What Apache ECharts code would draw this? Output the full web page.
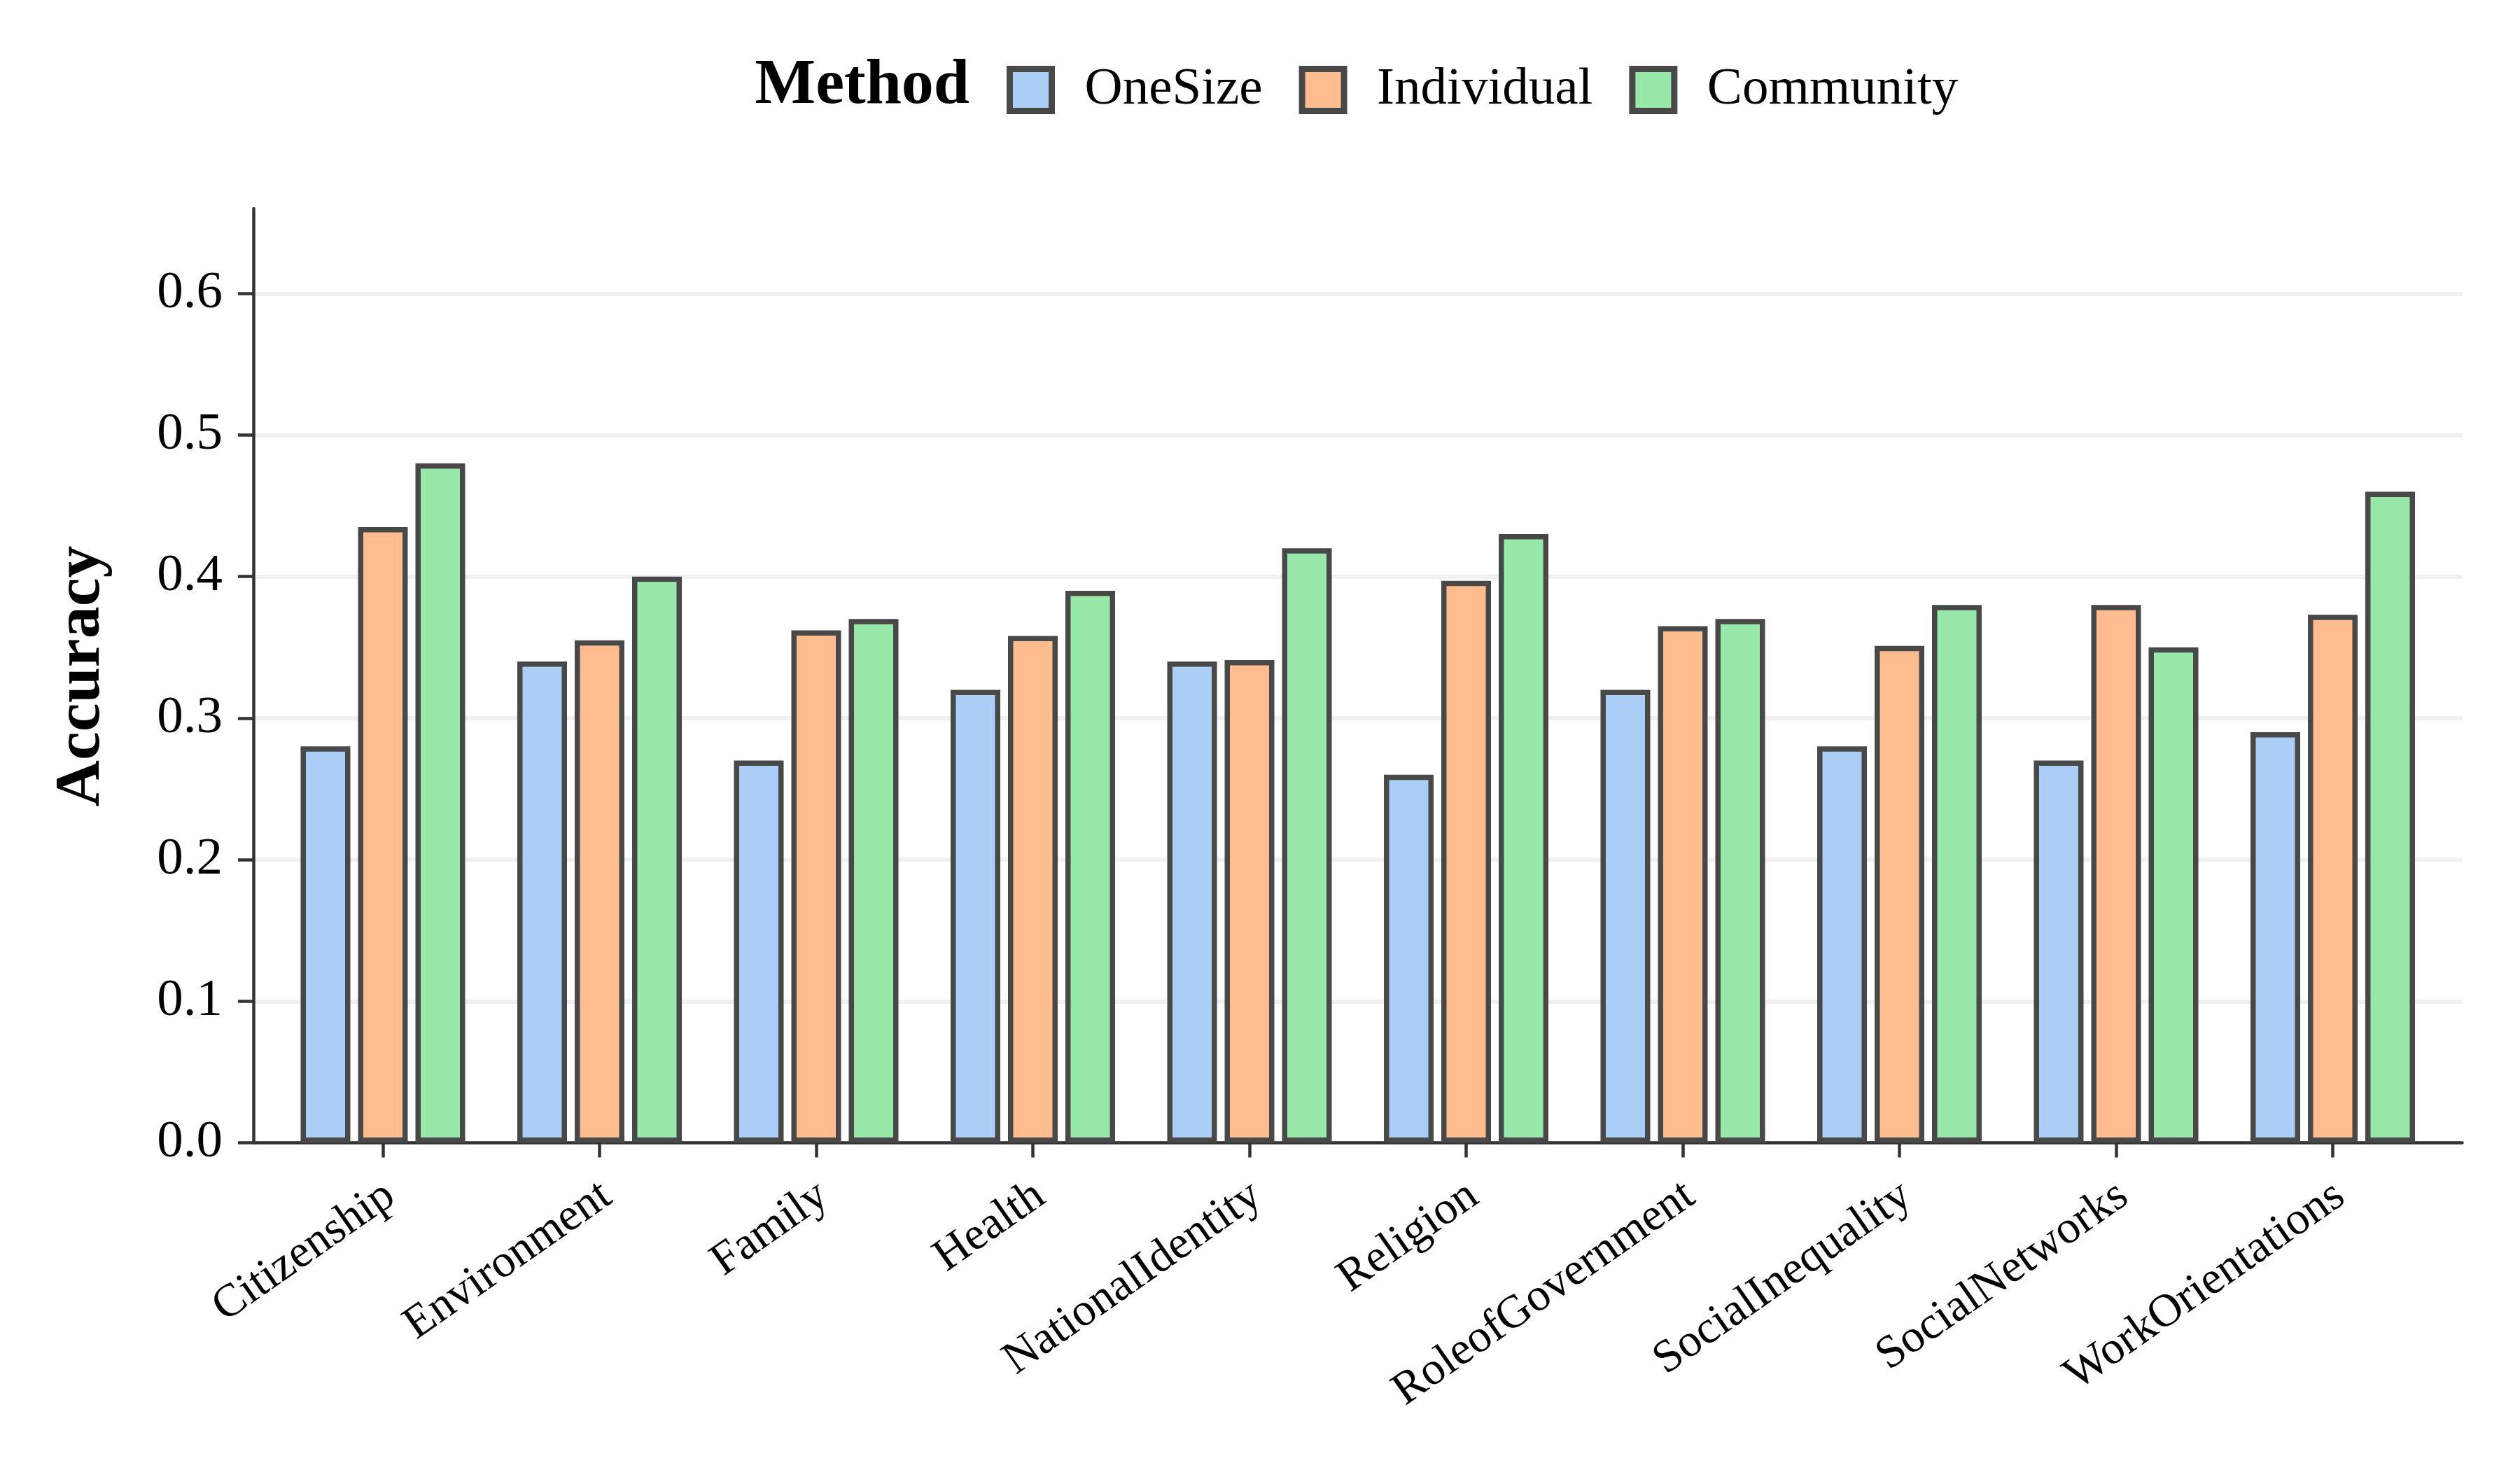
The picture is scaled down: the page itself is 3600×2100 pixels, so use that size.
<!DOCTYPE html>
<html>
<head>
<meta charset="utf-8">
<script src="https://cdn.jsdelivr.net/npm/echarts@6/dist/echarts.min.js"></script>
<style>
  html, body { margin: 0; padding: 0; background: #ffffff; }
  #chart { width: 3600px; height: 2100px; }
</style>
</head>
<body>
<div id="chart"></div>
<script>
const categories = ['Citizenship', 'Environment', 'Family', 'Health', 'NationalIdentity',
  'Religion', 'RoleofGovernment', 'SocialInequality', 'SocialNetworks', 'WorkOrientations'];
const seriesNames = ['OneSize', 'Individual', 'Community'];
const oneSize    = [0.28, 0.34, 0.27, 0.32, 0.34, 0.26, 0.32, 0.28, 0.27, 0.29];
const individual = [0.435, 0.355, 0.362, 0.358, 0.341, 0.397, 0.365, 0.351, 0.38, 0.373];
const community  = [0.48, 0.40, 0.37, 0.39, 0.42, 0.43, 0.37, 0.38, 0.35, 0.46];
const yTicks = [0, 0.1, 0.2, 0.3, 0.4, 0.5, 0.6];

const FONT = "'Liberation Serif', 'Times New Roman', serif";
const colors = ['#aacef5', '#ffbc8f', '#98e8aa'];
const edge = '#484848';
const axisCol = '#333333';

// pixel layout
const y0 = 1632.5, pxPer = 2022;      // px per 1.0 of accuracy
const yMax = 0.66;
const topA = y0 - yMax * pxPer;
const topC = y0 - yTicks[yTicks.length - 1] * pxPer;
const bottom = 2100 - y0;

const chart = echarts.init(document.getElementById('chart'), null, { renderer: 'canvas', width: 3600, height: 2100 });

const seriesData = [oneSize, individual, community];

const option = {
  backgroundColor: '#ffffff',
  animation: false,
  grid: [
    { left: 362, right: 3600 - 3517.5, top: topA, bottom: bottom },   // axis spines
    { left: 392.25, right: 3600 - 3487.25, top: topA, bottom: bottom }, // bars
    { left: 362, right: 3600 - 3517.5, top: topC, bottom: bottom }    // y ticks / grid
  ],
  xAxis: [
    { gridIndex: 0, type: 'value', min: 0, max: 1,
      axisLine: { show: true, lineStyle: { color: axisCol, width: 4.5 } },
      axisTick: { show: false }, axisLabel: { show: false }, splitLine: { show: false } },
    { gridIndex: 1, type: 'category', data: categories, boundaryGap: true,
      axisLine: { show: false },
      axisTick: { show: true, alignWithLabel: true, length: 21, lineStyle: { color: axisCol, width: 4.5 } },
      axisLabel: { rotate: 35, margin: 77, fontFamily: FONT, fontSize: 66, color: '#000', interval: 0,
        padding: [30, -13, 0, 0] },
      splitLine: { show: false } },
    { gridIndex: 2, type: 'value', min: 0, max: 1, show: false }
  ],
  yAxis: [
    { gridIndex: 0, type: 'value', min: 0, max: yMax,
      axisLine: { show: true, lineStyle: { color: axisCol, width: 4.5 } },
      axisTick: { show: false }, axisLabel: { show: false }, splitLine: { show: false } },
    { gridIndex: 1, type: 'value', min: 0, max: yMax, show: false, splitLine: { show: false } },
    { gridIndex: 2, type: 'value', min: 0, max: yTicks[yTicks.length - 1], interval: 0.1,
      axisLine: { show: false },
      axisTick: { show: true, length: 22, lineStyle: { color: axisCol, width: 4.5 } },
      axisLabel: { margin: 44, fontFamily: FONT, fontSize: 75, color: '#000',
        formatter: v => v.toFixed(1) },
      splitLine: { show: true, lineStyle: { color: '#f0f0f0', width: 6 } } }
  ],
  legend: {
    data: seriesNames,
    left: 1433, top: 86,
    orient: 'horizontal',
    itemWidth: 60, itemHeight: 60, itemGap: 52,
    icon: 'rect',
    itemStyle: { borderColor: edge, borderWidth: 9 },
    textStyle: { fontFamily: FONT, fontSize: 75, color: '#000', padding: [0, 0, 0, 42] }
  },
  graphic: [
    { type: 'text', x: 1385, y: 123.5,
      style: { text: 'Method', font: "bold 92px " + FONT, fill: '#000', textAlign: 'right', textVerticalAlign: 'middle' } },
    { type: 'text', x: 117, y: 966, rotation: Math.PI / 2,
      style: { text: 'Accuracy', font: "bold 92px " + FONT, fill: '#000', textAlign: 'center', textVerticalAlign: 'middle' } }
  ],
  series: seriesNames.map((name, i) => ({
    name: name,
    type: 'bar',
    xAxisIndex: 1, yAxisIndex: 1,
    data: seriesData[i],
    barWidth: 71,
    barGap: '15.5%',
    itemStyle: { color: colors[i], borderColor: edge, borderWidth: 7.5 },
    z: 3
  }))
};
chart.setOption(option);
</script>
</body>
</html>
